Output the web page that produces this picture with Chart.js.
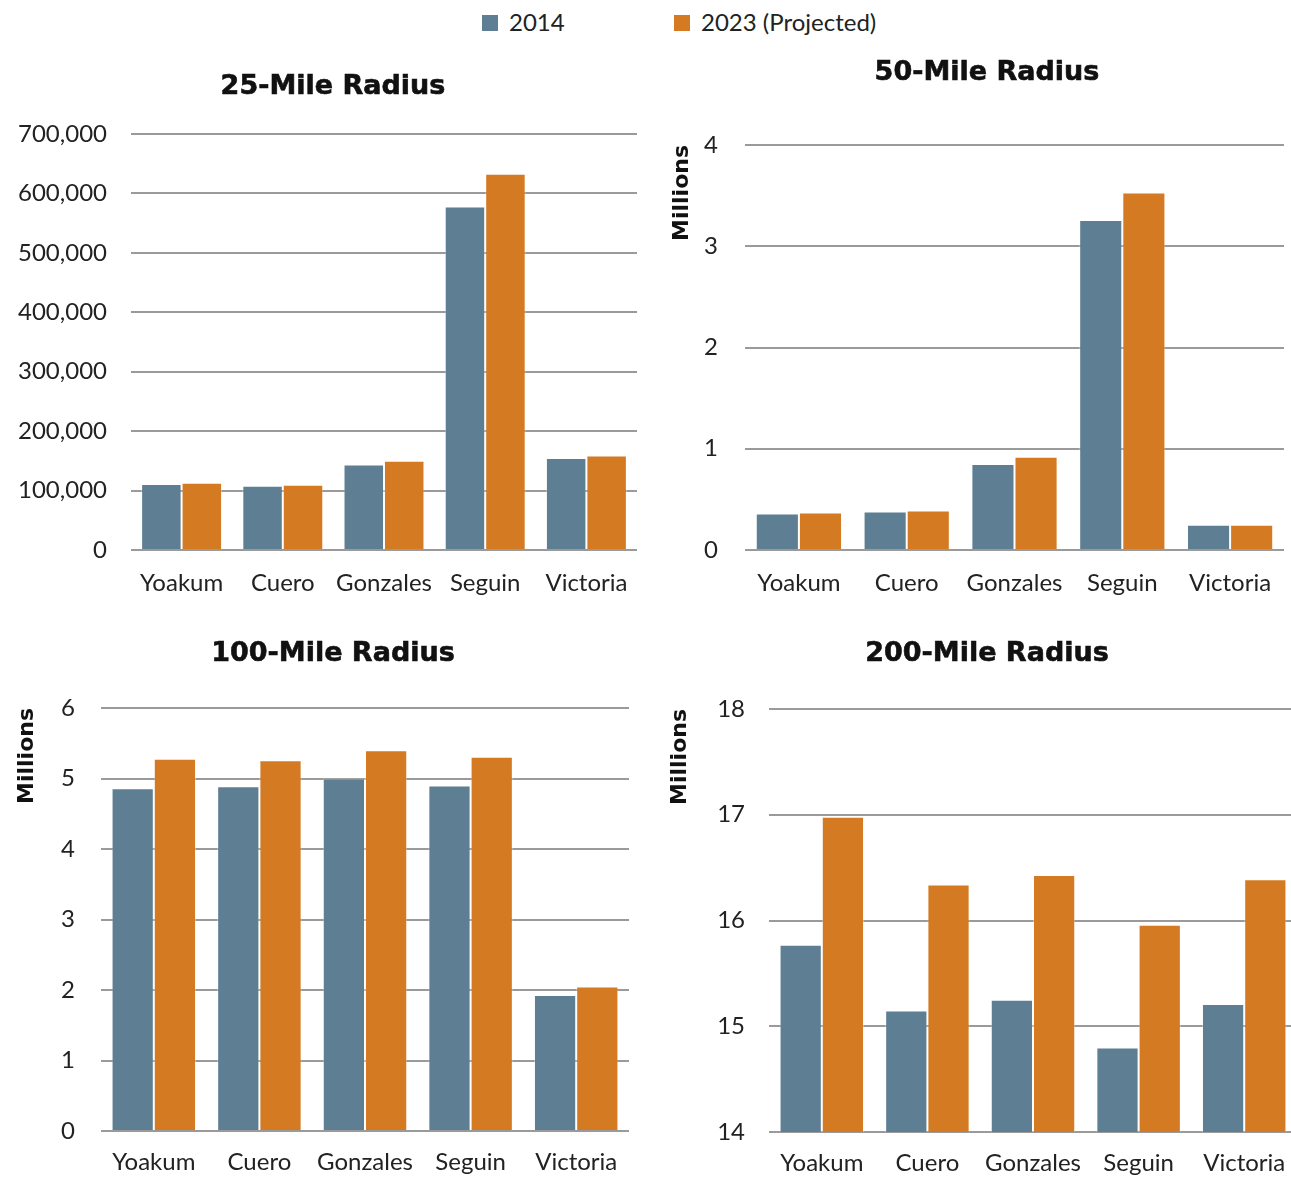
<!DOCTYPE html>
<html>
<head>
<meta charset="utf-8">
<title>Population within radius</title>
<script src="https://cdn.jsdelivr.net/npm/chart.js@4.4.0/dist/chart.umd.min.js"></script>
<style>
  html, body { margin: 0; padding: 0; background: #fff; overflow: hidden; width: 1291px; height: 1177px; }
  canvas { position: absolute; }
  #legend { position: absolute; left: 0; top: 0; font-family: Lato, "Open Sans", sans-serif; font-size: 24px; color: #222; }
  #legend .item { position: absolute; top: 8px; height: 28px; line-height: 28px; white-space: nowrap; }
  #legend .sw { display: inline-block; width: 16px; height: 16px; margin-right: 11px; vertical-align: middle; position: relative; top: -2px; }
  .heading { position: absolute; width: 400px; text-align: center; font-family: "DejaVu Sans", sans-serif; font-weight: bold; font-size: 27px; line-height: 27px; color: #111; white-space: nowrap; -webkit-text-stroke: 0.6px #111; }
</style>
</head>
<body>
<div id="legend"></div>
<canvas id="c25" width="645" height="610" style="left:0;top:0"></canvas>
<canvas id="c50" width="646" height="610" style="left:645px;top:0"></canvas>
<canvas id="c100" width="645" height="567" style="left:0;top:610px"></canvas>
<canvas id="c200" width="652" height="567" style="left:645px;top:610px"></canvas>
<div class="heading" style="left:133px;top:71px">25-Mile Radius</div>
<div class="heading" style="left:787px;top:57px">50-Mile Radius</div>
<div class="heading" style="left:133px;top:638px">100-Mile Radius</div>
<div class="heading" style="left:787px;top:638px">200-Mile Radius</div>
<script>
// Towns and series
const towns = ['Yoakum', 'Cuero', 'Gonzales', 'Seguin', 'Victoria'];
const seriesNames = ['2014', '2023 (Projected)'];

// 25-mile radius (people)
const r25_2014 = [111000, 108000, 144000, 578000, 155000];
const r25_2023 = [113000, 110000, 150000, 633000, 159000];
// 50-mile radius (millions)
const r50_2014 = [0.36, 0.38, 0.85, 3.26, 0.25];
const r50_2023 = [0.37, 0.39, 0.92, 3.53, 0.25];
// 100-mile radius (millions)
const r100_2014 = [4.86, 4.89, 5.00, 4.90, 1.93];
const r100_2023 = [5.28, 5.26, 5.40, 5.31, 2.05];
// 200-mile radius (millions)
const r200_2014 = [15.77, 15.15, 15.25, 14.80, 15.21];
const r200_2023 = [16.98, 16.34, 16.43, 15.96, 16.39];

// Axis ranges [min, max, step]
const range25 = [0, 700000, 100000];
const range50 = [0, 4, 1];
const range100 = [0, 6, 1];
const range200 = [14, 18, 1];

const BLUE = '#5E7F93';
const ORANGE = '#D47A22';
const EDGE = 'rgba(255,255,255,0.35)';
const GRID = '#9a9a9a';
const FONT = 'Lato, "Open Sans", sans-serif';
const BOLD = '"DejaVu Sans", sans-serif';

// shared legend
const legend = document.getElementById('legend');
[[482, BLUE, seriesNames[0]], [674, ORANGE, seriesNames[1]]].forEach(([x, c, t]) => {
  const d = document.createElement('div');
  d.className = 'item';
  d.style.left = x + 'px';
  const s = document.createElement('span');
  s.className = 'sw';
  s.style.background = c;
  d.appendChild(s);
  d.appendChild(document.createTextNode(t));
  legend.appendChild(d);
});

function build(id, a, b, range, g) {
  return new Chart(document.getElementById(id), {
    type: 'bar',
    data: {
      labels: towns,
      datasets: [
        { label: seriesNames[0], data: a, backgroundColor: BLUE, borderColor: EDGE, borderWidth: 1 },
        { label: seriesNames[1], data: b, backgroundColor: ORANGE, borderColor: EDGE, borderWidth: 1 }
      ]
    },
    options: {
      responsive: false,
      animation: false,
      devicePixelRatio: 1,
      layout: { padding: { left: 0, right: g.padR, top: g.padT, bottom: g.padB } },
      datasets: { bar: { categoryPercentage: 0.8, barPercentage: 1 } },
      plugins: {
        legend: { display: false },
        tooltip: { enabled: false },
        title: { display: false }
      },
      scales: {
        x: {
          grid: { display: false },
          border: { display: false },
          ticks: { color: '#222', font: { family: FONT, size: 24 }, padding: g.xPad, maxRotation: 0, autoSkip: false },
          afterFit(s) { s.height = g.xH; }
        },
        y: {
          min: range[0],
          max: range[1],
          ticks: { stepSize: range[2], color: '#222', font: { family: FONT, size: 24 }, padding: g.yPad },
          grid: { color: GRID, lineWidth: 2, drawTicks: false },
          border: { display: false },
          title: {
            display: !!g.axisTitle,
            text: 'Millions',
            align: 'end',
            color: '#111',
            font: { family: BOLD, size: 22, weight: 'bold', lineHeight: 1.2 },
            padding: { top: g.atPad || 0, bottom: 0 }
          },
          afterFit(s) { s.width = g.yW; }
        }
      }
    }
  });
}

build('c25', r25_2014, r25_2023, range25,
  { padR: 8, padT: 134, padB: 10, yW: 131, yPad: 24, xH: 50, xPad: 10.6 });
build('c50', r50_2014, r50_2023, range50,
  { padR: 7, padT: 145, padB: 10, yW: 100, yPad: 27, xH: 50, xPad: 10.6, axisTitle: true, atPad: 23.8 });
build('c100', r100_2014, r100_2023, range100,
  { padR: 16, padT: 98, padB: 0, yW: 101, yPad: 26, xH: 46, xPad: 8.6, axisTitle: true, atPad: 13.8 });
build('c200', r200_2014, r200_2023, range200,
  { padR: 0, padT: 99, padB: 0, yW: 124, yPad: 24, xH: 45, xPad: 8.6, axisTitle: true, atPad: 21.8 });
</script>
</body>
</html>
